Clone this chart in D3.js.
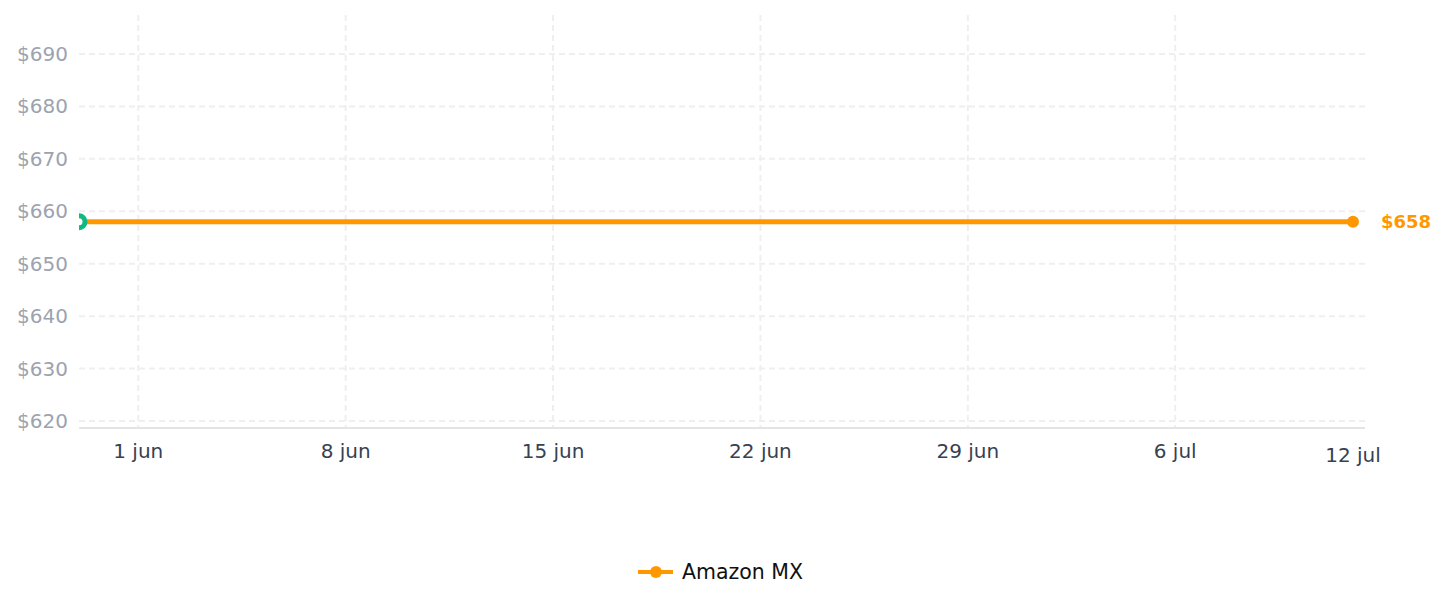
<!DOCTYPE html>
<html>
<head>
<meta charset="utf-8">
<script src="https://cdn.jsdelivr.net/npm/d3@7"></script>
<style>
  body { margin: 0; background: #fff; }
  svg { display: block; font-family: "DejaVu Sans", sans-serif; }
</style>
</head>
<body>
<svg id="chart" width="1447" height="607"></svg>
<script>
// Data
const seriesName = "Amazon MX";
const dates = ["2024-05-30", "2024-07-12"];
const prices = [658, 658];
const yTicks = [620, 630, 640, 650, 660, 670, 680, 690];
const xTicks = ["2024-06-01", "2024-06-08", "2024-06-15", "2024-06-22", "2024-06-29", "2024-07-06"];
const xTickLabels = ["1 jun", "8 jun", "15 jun", "22 jun", "29 jun", "6 jul"];
const lastLabel = "12 jul";

const parse = d3.timeParse("%Y-%m-%d");
const points = dates.map((d, i) => ({ date: parse(d), price: prices[i] }));

const svg = d3.select("#chart");
const plotLeft = 79, plotRight = 1365, plotTop = 15, plotBottom = 428;
const orange = "#ff9800";

const x = d3.scaleTime()
	.domain([parse(dates[0]), parse(dates[dates.length - 1])])
	.range([79, 1353]);

const y = d3.scaleLinear()
	.domain([620, 690])
	.range([421, 54]);

// Grid horizontal
svg.append("g")
	.selectAll("line")
	.data(yTicks)
	.join("line")
	.attr("x1", plotLeft)
	.attr("x2", plotRight)
	.attr("y1", d => y(d))
	.attr("y2", d => y(d))
	.attr("stroke", "#efefef")
	.attr("stroke-width", 2)
	.attr("stroke-dasharray", "6,4");

// Grid vertical
svg.append("g")
	.selectAll("line")
	.data(xTicks)
	.join("line")
	.attr("x1", d => x(parse(d)))
	.attr("x2", d => x(parse(d)))
	.attr("y1", plotTop)
	.attr("y2", plotBottom)
	.attr("stroke", "#efefef")
	.attr("stroke-width", 2)
	.attr("stroke-dasharray", "6,4");

// Axis line
svg.append("line")
	.attr("x1", plotLeft)
	.attr("x2", plotRight)
	.attr("y1", plotBottom)
	.attr("y2", plotBottom)
	.attr("stroke", "#e3e3e8")
	.attr("stroke-width", 2);

// Y labels
svg.append("g")
	.selectAll("text")
	.data(yTicks)
	.join("text")
	.attr("x", 68)
	.attr("y", d => y(d))
	.attr("dy", "0.35em")
	.attr("text-anchor", "end")
	.style("font-size", "20px")
	.style("fill", "#9ca3af")
	.text(d => "$" + d);

// X labels
svg.append("g")
	.selectAll("text")
	.data(xTicks)
	.join("text")
	.attr("x", d => x(parse(d)))
	.attr("y", 458)
	.attr("text-anchor", "middle")
	.style("font-size", "20px")
	.style("fill", "#374151")
	.text((d, i) => xTickLabels[i]);

svg.append("text")
	.attr("x", x(parse(dates[dates.length - 1])))
	.attr("y", 462)
	.attr("text-anchor", "middle")
	.style("font-size", "20px")
	.style("fill", "#374151")
	.text(lastLabel);

// Line
const line = d3.line()
	.x(d => x(d.date))
	.y(d => y(d.price));

svg.append("defs").append("clipPath")
	.attr("id", "plot-clip")
	.append("rect")
	.attr("x", plotLeft)
	.attr("y", 0)
	.attr("width", 1447 - plotLeft)
	.attr("height", plotBottom);

const plot = svg.append("g").attr("clip-path", "url(#plot-clip)");

plot.append("path")
	.datum(points)
	.attr("d", line)
	.attr("fill", "none")
	.attr("stroke", orange)
	.attr("stroke-width", 5);

// Start marker
const first = points[0];
plot.append("circle")
	.attr("cx", x(first.date))
	.attr("cy", y(first.price))
	.attr("r", 6)
	.attr("fill", "#fff")
	.attr("stroke", "#10b981")
	.attr("stroke-width", 5);

// End marker
const last = points[points.length - 1];
svg.append("circle")
	.attr("cx", x(last.date))
	.attr("cy", y(last.price))
	.attr("r", 6)
	.attr("fill", orange);

svg.append("text")
	.attr("x", x(last.date) + 28)
	.attr("y", y(last.price))
	.attr("dy", "0.35em")
	.style("font-size", "18px")
	.style("font-weight", "bold")
	.style("fill", orange)
	.text("$" + last.price);

// Legend
const legend = svg.append("g").attr("transform", "translate(638, 572)");
legend.append("line")
	.attr("x1", 0)
	.attr("x2", 35)
	.attr("stroke", orange)
	.attr("stroke-width", 4);
legend.append("circle")
	.attr("cx", 18)
	.attr("r", 6)
	.attr("fill", orange);
legend.append("text")
	.attr("x", 44)
	.attr("dy", "0.35em")
	.style("font-size", "20.5px")
	.style("fill", "#111")
	.text(seriesName);
</script>
</body>
</html>
